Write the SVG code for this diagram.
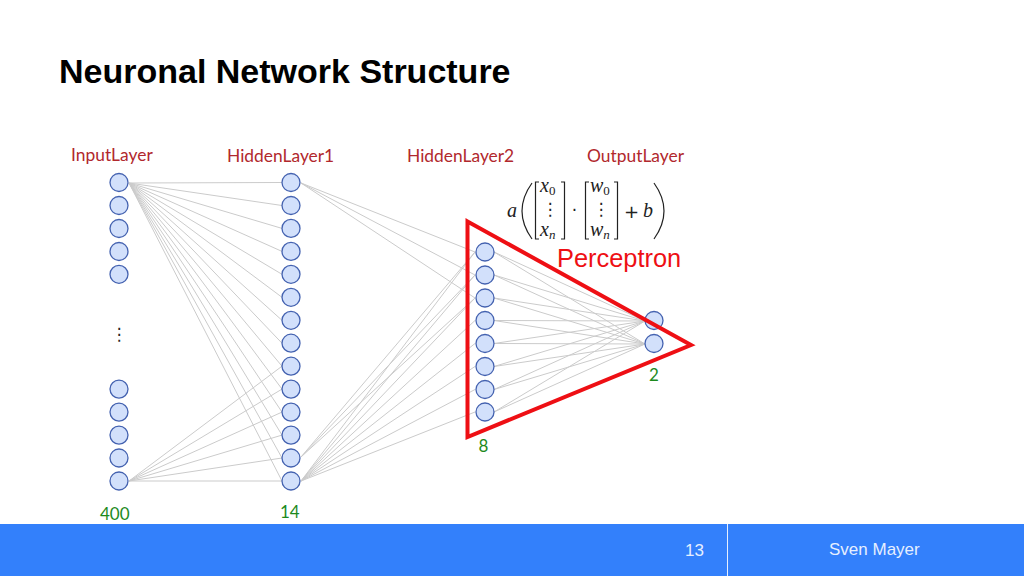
<svg xmlns="http://www.w3.org/2000/svg" width="1024" height="576" viewBox="0 0 1024 576">
<style>
.n{fill:#d2e0fb;stroke:#4462b0;stroke-width:1.3}
.c line{stroke:#cbcbcb;stroke-width:1}
.l{font-family:Lato,"Open Sans",sans-serif;font-size:17.4px;fill:#b1282d}
.g{font-family:Lato,"Open Sans",sans-serif;font-size:17px;fill:#1d8a1d}
.m{font-family:"Liberation Serif",serif;font-style:italic;font-size:20px;fill:#222}
.s{font-size:13px}
.u{font-family:"DejaVu Sans",sans-serif;font-size:17px;fill:#222}
.b{fill:none;stroke:#222;stroke-width:1.2}
.f{font-family:"Liberation Sans",Arial,sans-serif;font-size:17px;fill:#e6efff}
</style>
<rect width="1024" height="576" fill="#fff"/>
<text x="59" y="83" font-family="'Liberation Sans',Arial,sans-serif" font-weight="700" font-size="34px" fill="#000">Neuronal Network Structure</text>
<g id="connectors" class="c">
<line x1="129" y1="183" x2="282" y2="182.5"/><line x1="129" y1="183" x2="282" y2="205.5"/><line x1="129" y1="183" x2="282" y2="228.4"/><line x1="129" y1="183" x2="282" y2="251.4"/><line x1="129" y1="183" x2="282" y2="274.3"/><line x1="129" y1="183" x2="282" y2="297.3"/><line x1="129" y1="183" x2="282" y2="320.3"/><line x1="129" y1="183" x2="282" y2="343.2"/><line x1="129" y1="183" x2="282" y2="366.2"/><line x1="129" y1="183" x2="282" y2="389.1"/><line x1="129" y1="183" x2="282" y2="412.1"/><line x1="129" y1="183" x2="282" y2="435.1"/><line x1="129" y1="183" x2="282" y2="458"/><line x1="129" y1="183" x2="282" y2="481"/>
<line x1="129" y1="481" x2="282" y2="366.2"/><line x1="129" y1="481" x2="282" y2="389.1"/><line x1="129" y1="481" x2="282" y2="412.1"/><line x1="129" y1="481" x2="282" y2="435.1"/><line x1="129" y1="481" x2="282" y2="458"/><line x1="129" y1="481" x2="282" y2="481"/>
<line x1="301" y1="183" x2="475" y2="252"/><line x1="301" y1="183" x2="475" y2="275"/><line x1="301" y1="183" x2="475" y2="298"/>
<line x1="301" y1="457" x2="475" y2="252"/><line x1="301" y1="457" x2="475" y2="275"/><line x1="301" y1="457" x2="475" y2="298"/>
<line x1="301" y1="481" x2="475" y2="252"/><line x1="301" y1="481" x2="475" y2="275"/><line x1="301" y1="481" x2="475" y2="298"/><line x1="301" y1="481" x2="475" y2="320.5"/><line x1="301" y1="481" x2="475" y2="343.5"/><line x1="301" y1="481" x2="475" y2="366.5"/><line x1="301" y1="481" x2="475" y2="389.5"/><line x1="301" y1="481" x2="475" y2="412"/>
<line x1="494" y1="252" x2="645" y2="321"/><line x1="494" y1="252" x2="645" y2="344"/><line x1="494" y1="275" x2="645" y2="321"/><line x1="494" y1="275" x2="645" y2="344"/><line x1="494" y1="298" x2="645" y2="321"/><line x1="494" y1="298" x2="645" y2="344"/><line x1="494" y1="320.5" x2="645" y2="321"/><line x1="494" y1="320.5" x2="645" y2="344"/><line x1="494" y1="343.5" x2="645" y2="321"/><line x1="494" y1="343.5" x2="645" y2="344"/><line x1="494" y1="366.5" x2="645" y2="321"/><line x1="494" y1="366.5" x2="645" y2="344"/><line x1="494" y1="389.5" x2="645" y2="321"/><line x1="494" y1="389.5" x2="645" y2="344"/><line x1="494" y1="412" x2="645" y2="321"/><line x1="494" y1="412" x2="645" y2="344"/>
</g>
<g id="input-layer">
<circle class="n" cx="119" cy="182.5" r="9"/><circle class="n" cx="119" cy="205.5" r="9"/><circle class="n" cx="119" cy="228.5" r="9"/><circle class="n" cx="119" cy="251.5" r="9"/><circle class="n" cx="119" cy="274.3" r="9"/>
<circle class="n" cx="119" cy="389.1" r="9"/><circle class="n" cx="119" cy="412.1" r="9"/><circle class="n" cx="119" cy="435.1" r="9"/><circle class="n" cx="119" cy="458" r="9"/><circle class="n" cx="119" cy="481" r="9"/>
<text x="119" y="340" text-anchor="middle" class="u">⋮</text>
</g>
<g id="hidden-layer-1">
<circle class="n" cx="291" cy="182.5" r="9"/><circle class="n" cx="291" cy="205.5" r="9"/><circle class="n" cx="291" cy="228.4" r="9"/><circle class="n" cx="291" cy="251.4" r="9"/><circle class="n" cx="291" cy="274.3" r="9"/><circle class="n" cx="291" cy="297.3" r="9"/><circle class="n" cx="291" cy="320.3" r="9"/><circle class="n" cx="291" cy="343.2" r="9"/><circle class="n" cx="291" cy="366.2" r="9"/><circle class="n" cx="291" cy="389.1" r="9"/><circle class="n" cx="291" cy="412.1" r="9"/><circle class="n" cx="291" cy="435.1" r="9"/><circle class="n" cx="291" cy="458" r="9"/><circle class="n" cx="291" cy="481" r="9"/>
</g>
<g id="hidden-layer-2">
<circle class="n" cx="485" cy="252" r="9"/><circle class="n" cx="485" cy="275" r="9"/><circle class="n" cx="485" cy="298" r="9"/><circle class="n" cx="485" cy="320.5" r="9"/><circle class="n" cx="485" cy="343.5" r="9"/><circle class="n" cx="485" cy="366.5" r="9"/><circle class="n" cx="485" cy="389.5" r="9"/><circle class="n" cx="485" cy="412" r="9"/>
</g>
<g id="output-layer">
<circle class="n" cx="654" cy="320.5" r="9"/><circle class="n" cx="654" cy="343.5" r="9"/>
</g>
<g id="perceptron">
<polygon points="467.500,221.500 691,345 467.500,437" fill="none" stroke="#ee0f14" stroke-width="4"/>
<text x="557" y="267" font-family="'Liberation Sans',Arial,sans-serif" font-size="25.4px" fill="#ee0f14">Perceptron</text>
</g>
<g id="formula">
<text x="507" y="217" class="m">a</text>
<path class="b" d="M532 183 Q512 211 532 239M654 183 Q674 211 654 239"/>
<path class="b" d="M539 182H535.500V239H539M561 182H564.500V239H561M589 182H585.500V239H589M614 182H617.500V239H614"/>
<text x="540" y="192" class="m">x<tspan class="s" dy="3" style="font-style:normal">0</tspan></text>
<text x="540" y="236" class="m">x<tspan class="s" dy="3">n</tspan></text>
<text x="590" y="192" class="m">w<tspan class="s" dy="3" style="font-style:normal">0</tspan></text>
<text x="590" y="236" class="m">w<tspan class="s" dy="3">n</tspan></text>
<text x="550" y="215" text-anchor="middle" class="u">⋮</text>
<text x="601" y="215" text-anchor="middle" class="u">⋮</text>
<text x="574.500" y="216" text-anchor="middle" class="u">·</text>
<text x="624" y="218" class="u" style="font-size:18px">+</text>
<text x="643" y="217" class="m">b</text>
</g>
<g id="labels">
<text x="71" y="161" class="l">InputLayer</text>
<text x="227" y="162" class="l">HiddenLayer1</text>
<text x="407" y="162" class="l">HiddenLayer2</text>
<text x="587" y="162" class="l">OutputLayer</text>
<text x="100" y="520" class="g">400</text>
<text x="280" y="518" class="g">14</text>
<text x="478.500" y="452" class="g">8</text>
<text x="649" y="381" class="g">2</text>
</g>
<g id="footer">
<rect x="0" y="524" width="1024" height="52" fill="#3380fb"/>
<rect x="727" y="524" width="1" height="52" fill="#e6efff"/>
<text x="685" y="556" class="f">13</text>
<text x="829" y="555" class="f">Sven Mayer</text>
</g>
</svg>
